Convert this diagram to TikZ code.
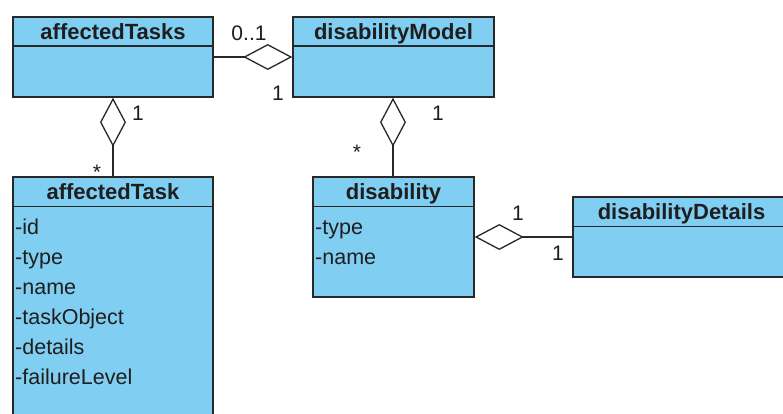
\documentclass[tikz,border=0pt]{standalone}
\usepackage{fontspec}
\setmainfont{Liberation Sans}
\usetikzlibrary{arrows.meta}
\definecolor{clsfill}{RGB}{128,206,242}
\definecolor{clsline}{RGB}{40,40,40}
\definecolor{txt}{RGB}{30,30,30}
\tikzset{
  cls/.style={draw=clsline, line width=1.5pt, fill=clsfill, rectangle, inner sep=0pt},
  hdr/.style={font=\fontsize{22}{25}\selectfont\bfseries, text=txt, inner sep=0pt, anchor=base},
  attr/.style={font=\fontsize{21.5}{24}\selectfont, text=txt, anchor=base west, inner sep=0pt},
  mult/.style={font=\fontsize{21}{24}\selectfont, text=txt, inner sep=0pt},
  conn/.style={draw=clsline, line width=1.3pt},
  aggd/.tip={Diamond[length=49pt,width=26pt,fill=white,line width=1.3pt]}
}
\begin{document}
\begin{tikzpicture}[x=1pt,y=-1pt]
\clip (0,0) rectangle (783,414);
\fill[white] (0,0) rectangle (783,414);
% classes
\node[cls, minimum width=200pt, minimum height=80pt] (tasks) at (113,57) {};
\node[cls, minimum width=201pt, minimum height=80pt] (model) at (393.5,57) {};
\node[cls, minimum width=200pt, minimum height=253pt] (task) at (113,303.5) {};
\node[cls, minimum width=161pt, minimum height=120pt] (dis) at (393.5,237) {};
\node[cls, minimum width=217pt, minimum height=80pt] (details) at (681.5,237) {};
% header dividers
\foreach \n in {tasks,model,task,dis,details}{
  \draw[draw=clsline, line width=1.5pt] ([yshift=-30pt]\n.north west) -- ([yshift=-30pt]\n.north east);
}
% titles
\node[hdr] (tasksT) at ([yshift=-23.5pt]tasks.north) {affectedTasks};
\node[hdr] (modelT) at ([yshift=-23.5pt]model.north) {disabilityModel};
\node[hdr] (taskT) at ([yshift=-23.5pt]task.north) {affectedTask};
\node[hdr] (disT) at ([yshift=-23.5pt]dis.north) {disability};
\node[hdr] (detailsT) at ([yshift=-23.5pt]details.north) {disabilityDetails};
% attributes
\node[attr] (a1) at (15,234) {-id};
\node[attr] (a2) at (15,264) {-type};
\node[attr] (a3) at (15,294) {-name};
\node[attr] (a4) at (15,324) {-taskObject};
\node[attr] (a5) at (15,354) {-details};
\node[attr] (a6) at (15,384) {-failureLevel};
\node[attr] (b1) at (315,234) {-type};
\node[attr] (b2) at (315,264) {-name};
% connectors
\draw[conn, -aggd] (tasks.east) -- (model.west);
\draw[conn, aggd-] (tasks.south) -- (task.north);
\draw[conn, aggd-] ([xshift=-0.5pt]model.south) -- ([xshift=-0.5pt]dis.north);
\draw[conn, aggd-] (dis.east) -- (details.west);
% multiplicities
\node[mult] (m1) at (249,33) {0..1};
\node[mult] (m2) at (278,93) {1};
\node[mult] (m3) at (138,113) {1};
\node[mult] (m4) at (97,172) {*};
\node[mult] (m5) at (438,113) {1};
\node[mult] (m6) at (357,152) {*};
\node[mult] (m7) at (518,213) {1};
\node[mult] (m8) at (558,253) {1};
\end{tikzpicture}
\end{document}
